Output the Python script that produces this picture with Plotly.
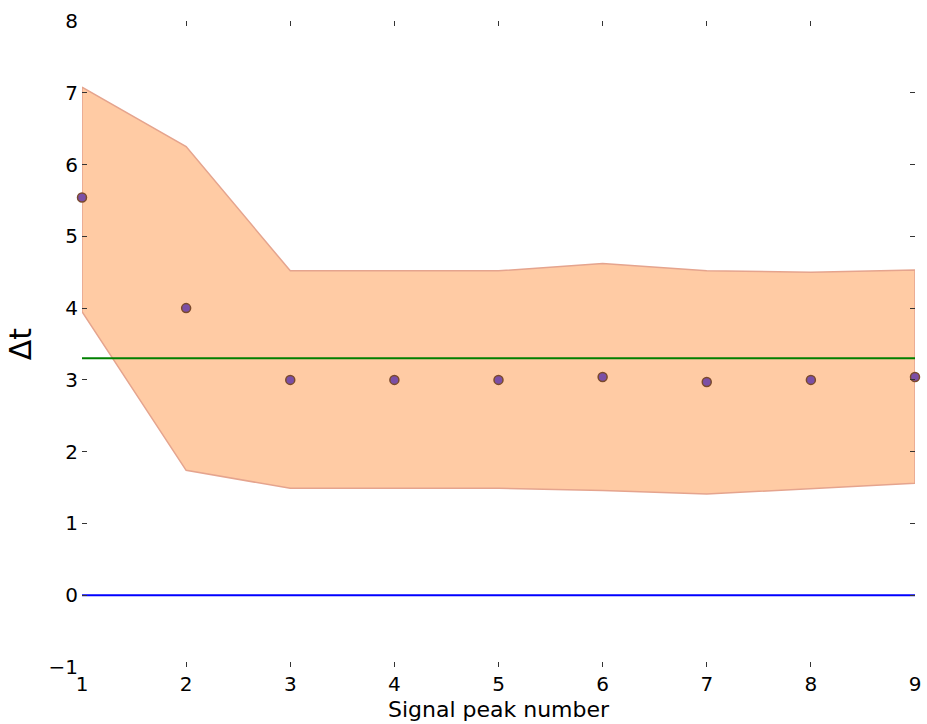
import plotly.graph_objects as go

# Signal peak positions and measured time offsets
peaks = [1, 2, 3, 4, 5, 6, 7, 8, 9]
delta_t = [5.54, 4.0, 3.0, 3.0, 3.0, 3.04, 2.97, 3.0, 3.04]
upper = [7.08, 6.25, 4.52, 4.52, 4.52, 4.62, 4.52, 4.5, 4.53]
lower = [3.95, 1.74, 1.49, 1.49, 1.49, 1.46, 1.41, 1.49, 1.56]
reference_level = 3.3
zero_level = 0.0

x_ticks = list(range(1, 10))
y_ticks = list(range(-1, 9))

band_fill = "#ffcba4"
band_edge = "#e5a48e"

fig = go.Figure()

# Uncertainty band as a closed polygon (upper edge out, lower edge back)
fig.add_trace(go.Scatter(
    x=peaks + peaks[::-1] + [peaks[0]],
    y=upper + lower[::-1] + [upper[0]],
    mode="lines", fill="toself", fillcolor=band_fill,
    line=dict(color=band_edge, width=1.5),
    showlegend=False, hoverinfo="skip",
))

# Reference levels
fig.add_trace(go.Scatter(
    x=[peaks[0], peaks[-1]], y=[reference_level, reference_level], mode="lines",
    line=dict(color="#008000", width=2), showlegend=False,
))
fig.add_trace(go.Scatter(
    x=[peaks[0], peaks[-1]], y=[zero_level, zero_level], mode="lines",
    line=dict(color="#0000ff", width=2), showlegend=False,
))

# Measured offsets
fig.add_trace(go.Scatter(
    x=peaks, y=delta_t, mode="markers", cliponaxis=False,
    marker=dict(size=9, color="#7b4fa6", line=dict(color="#7a4a2c", width=1.5)),
    showlegend=False,
))

axis_common = dict(
    showgrid=False, zeroline=False, showline=False, automargin=False,
    ticks="inside", ticklen=5, tickwidth=1, tickcolor="#333333",
    mirror="ticks",
    tickfont=dict(family="DejaVu Sans", size=20, color="black"),
)

fig.update_layout(
    width=927, height=724,
    margin=dict(l=82, r=12, t=21, b=57),
    paper_bgcolor="white", plot_bgcolor="white",
    xaxis=dict(
        range=[1, 9], tickvals=x_ticks, ticktext=[str(v) for v in x_ticks],
        ticklabelstandoff=3,
        title=dict(text="Signal peak number", standoff=6,
                   font=dict(family="DejaVu Sans", size=22, color="black")),
        **axis_common,
    ),
    yaxis=dict(
        range=[-1, 8], tickvals=y_ticks,
        ticktext=["\u22121" if v < 0 else str(v) for v in y_ticks],
        ticklabelstandoff=3,
        title=dict(text="\u0394t", standoff=8,
                   font=dict(family="DejaVu Sans", size=30, color="black")),
        **axis_common,
    ),
)

fig.write_html("out.html")
